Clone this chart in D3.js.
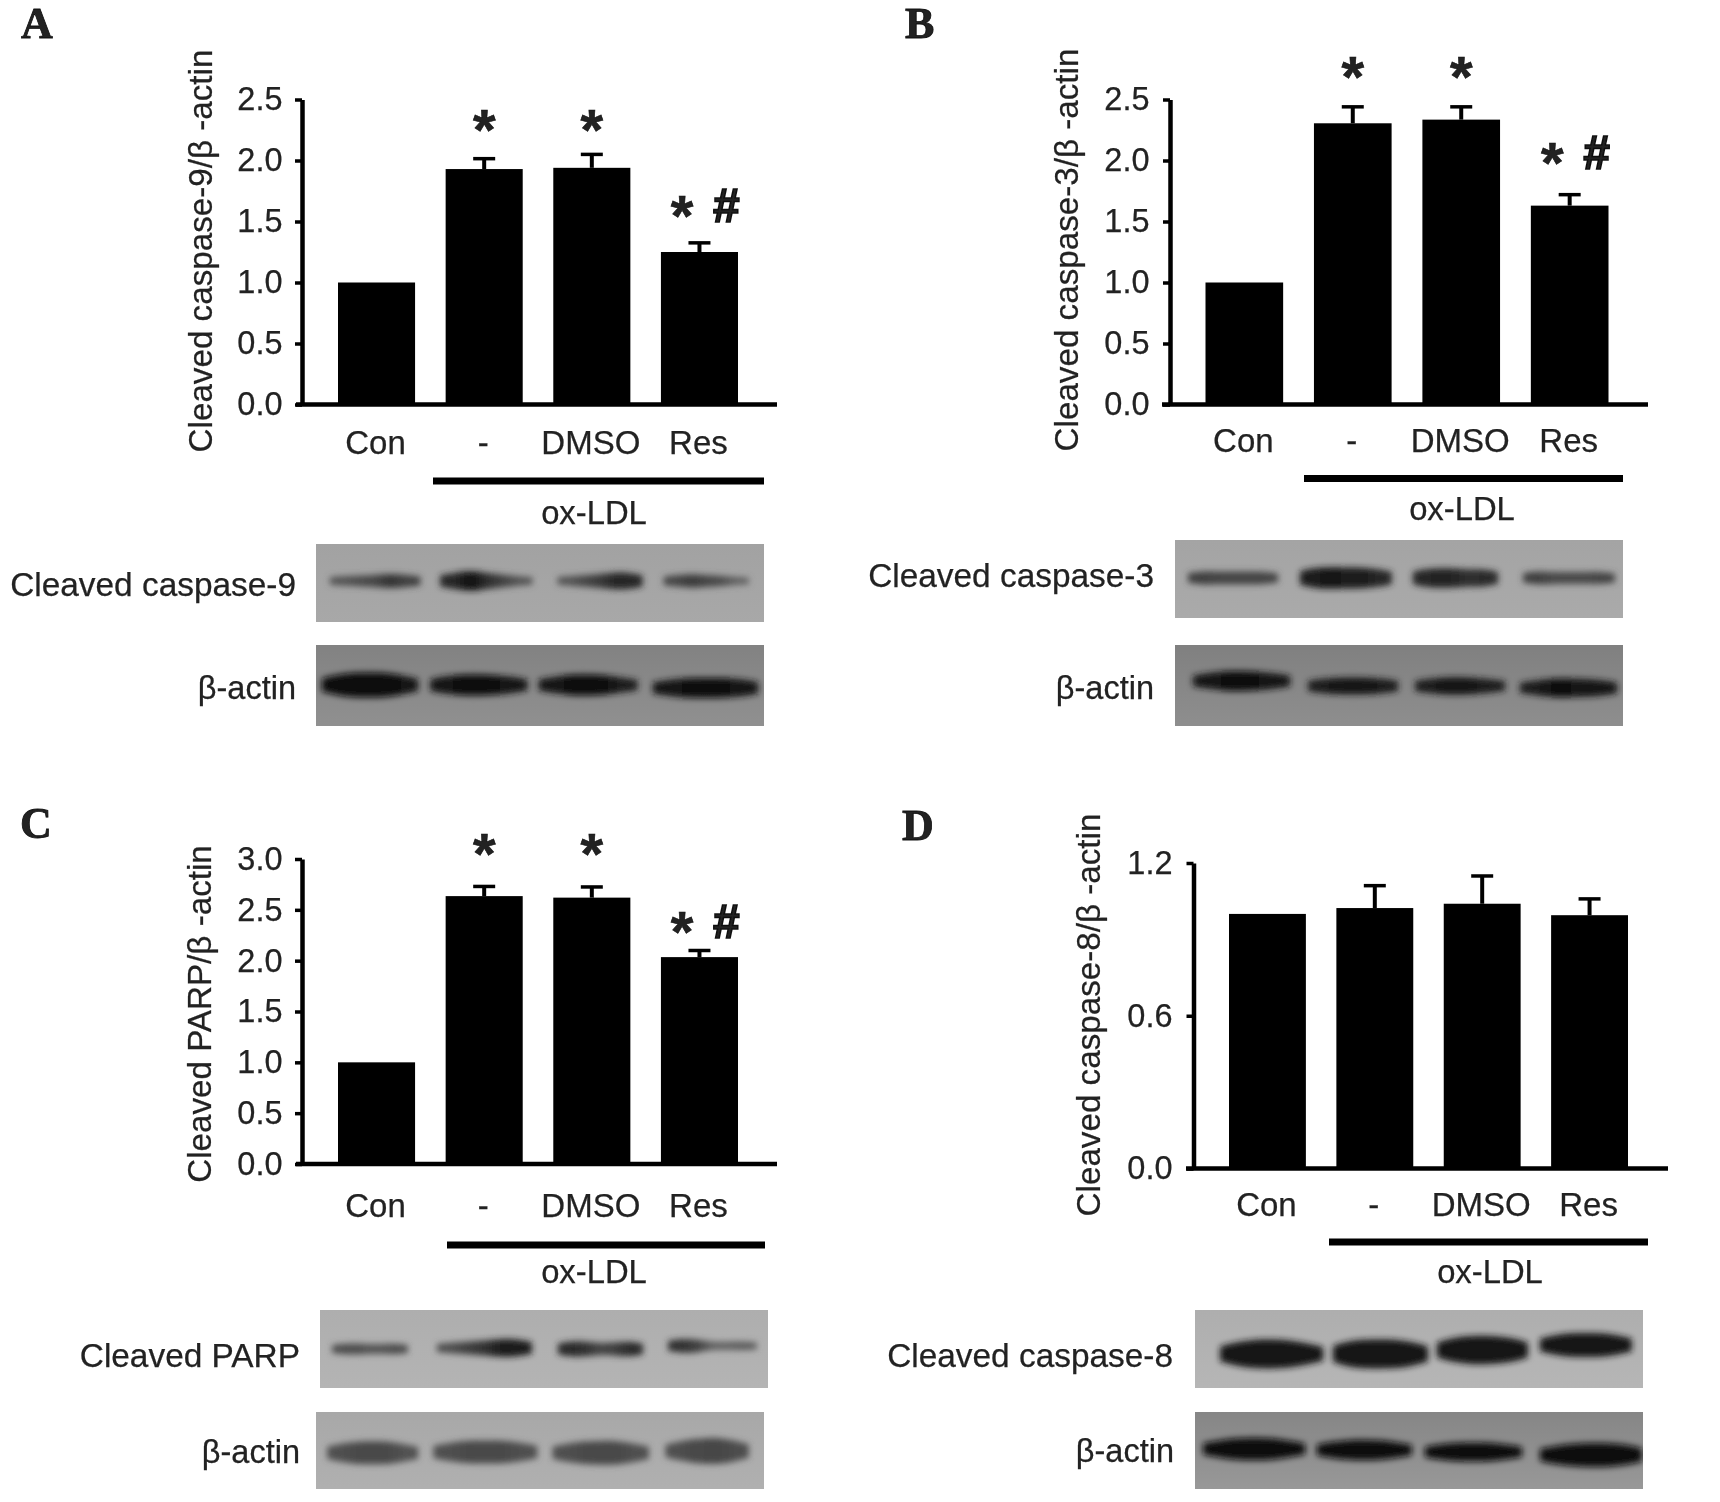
<!DOCTYPE html>
<html>
<head>
<meta charset="utf-8">
<title>Cleaved caspase blots</title>
<script src="https://cdn.jsdelivr.net/npm/d3@7"></script>
<style>
    html, body { margin: 0; padding: 0; background: #fff; }
    svg { display: block; }
    text { font-family: "Liberation Sans", Arial, sans-serif; fill: #222; stroke: #222; stroke-width: 0.25px; }
</style>
</head>
<body>
<svg id="figure" width="1720" height="1502"></svg>
<script>
//Constants
const groups = ['Con', '-', 'DMSO', 'Res']

// Bar heights and error bars
const caspase9Means = [1.0, 1.93, 1.94, 1.25]
const caspase9Errors = [0, 0.085, 0.11, 0.075]
const caspase3Means = [1.0, 2.305, 2.335, 1.63]
const caspase3Errors = [0, 0.135, 0.105, 0.09]
const parpMeans = [1.0, 2.635, 2.62, 2.035]
const parpErrors = [0, 0.095, 0.105, 0.065]
const caspase8Means = [1.0, 1.023, 1.04, 0.995]
const caspase8Errors = [0, 0.088, 0.109, 0.064]

// Tick labels
const ticks25 = [0, 0.5, 1, 1.5, 2, 2.5]
const ticks30 = [0, 0.5, 1, 1.5, 2, 2.5, 3]
const ticks12 = [0, 0.6, 1.2]

// Significance marks: height of the mark in axis units, per group (null = none)
const caspase9Stars = [null, 2.33, 2.33, 1.63]
const caspase3Stars = [null, 2.77, 2.77, 2.06]
const parpStars = [null, 3.15, 3.15, 2.38]
const caspase8Stars = [null, null, null, null]

// Blot bands: signal along each lane, 5 samples per lane
const blotCas9 = [[6, 7, 8, 11, 9], [13, 17, 12, 9, 6], [6, 8, 10, 13, 13], [8, 10, 8, 7, 4]]
const blotCas9Actin = [[17, 21, 21, 21, 15], [14, 17, 17, 16, 13], [13, 17, 17, 16, 11], [13, 16, 16, 16, 14]]
const blotCas3 = [[10, 9, 9, 9, 9], [17, 18, 17, 17, 15], [15, 16, 15, 13, 14], [10, 8, 8, 8, 9]]
const blotCas3Actin = [[12, 16, 16, 15, 12], [11, 13, 13, 13, 11], [11, 13, 14, 12, 10], [11, 15, 15, 14, 12]]
const blotParp = [[7, 7, 6, 6, 7], [7, 9, 11, 14, 14], [12, 11, 8, 9, 12], [11, 9, 4, 4, 5]]
const blotParpActin = [[15, 19, 19, 19, 14], [15, 19, 19, 19, 15], [15, 19, 20, 20, 15], [15, 20, 22, 22, 17]]
const blotCas8 = [[20, 25, 25, 24, 18], [22, 25, 25, 25, 20], [20, 24, 25, 23, 20], [16, 20, 20, 20, 16]]
const blotCas8Actin = [[14, 18, 19, 18, 13], [13, 16, 17, 16, 12], [12, 15, 15, 15, 11], [15, 19, 20, 20, 17]]

// Lane extents along the blot (percent of its width) and height of the lane (percent of its height)
const spansCas9 = [[3.1, 23.3], [27.7, 48.3], [53.9, 72.9], [77.6, 96.6]]
const spansCas9Actin = [[1.3, 22.8], [25.5, 47.2], [49.7, 71.8], [75.2, 98.7]]
const spansCas3 = [[2.9, 23], [27.9, 48.4], [53.1, 72.1], [77.7, 98.2]]
const spansCas3Actin = [[4, 25.7], [29.7, 49.8], [53.6, 73.7], [77, 98.7]]
const spansParp = [[2.7, 19.6], [26.1, 47.3], [53.1, 72.1], [77.7, 97.5]]
const spansParpActin = [[2.5, 22.8], [26.2, 49.4], [52.8, 74.3], [78, 96.6]]
const spansCas8 = [[5.6, 28.6], [30.8, 52], [54, 74.3], [77, 97.5]]
const spansCas8Actin = [[1.8, 24.6], [27.2, 48.4], [51.3, 73], [77, 99.8]]

const levelsCas9 = [47.4, 47.4, 47.4, 47.4]
const levelsCas9Actin = [49.4, 49.4, 49.4, 53]
const levelsCas3 = [48.7, 48.7, 48.7, 48.7]
const levelsCas3Actin = [44.4, 50.6, 50.6, 53]
const levelsParp = [50, 48.7, 50, 46]
const levelsParpActin = [53, 52, 53, 50.6]
const levelsCas8 = [56.4, 56.4, 51.3, 44.9]
const levelsCas8Actin = [48, 49.4, 52, 55.8]

const svg = d3.select('#figure')
const defs = svg.append('defs')
defs.append('filter').attr('id', 'soft')
    .attr('x', 0).attr('y', 0).attr('width', 1).attr('height', 1)
    .append('feGaussianBlur').attr('stdDeviation', 0.6)
defs.append('filter').attr('id', 'bandBlur')
    .attr('x', '-15%').attr('y', '-100%').attr('width', '130%').attr('height', '300%')
    .append('feGaussianBlur').attr('stdDeviation', 3)

const root = svg.append('g').attr('filter', 'url(#soft)')
root.append('rect').attr('width', 1720).attr('height', 1502).attr('fill', '#fff')

let gradientCount = 0

// Draw one bar panel: axes, bars, error bars, marks
function DrawChart(p) {
    const g = root.append('g')
    const yScale = d3.scaleLinear().domain(p.domain).range([p.bottom, p.top])
    const xScale = d3.scaleBand().domain(groups).range([p.barLeft, p.barRight]).paddingInner(0.284)

    g.selectAll('.bar').data(p.means).join('rect')
        .attr('class', 'bar')
        .attr('x', (d, i) => xScale(groups[i]))
        .attr('width', xScale.bandwidth())
        .attr('y', d => yScale(d))
        .attr('height', d => p.bottom - yScale(d))
        .attr('fill', '#000')

    // Error bars, upper side only
    p.errors.forEach((err, i) => {
        if(err == 0) {
            return
        }
        const cx = xScale(groups[i]) + xScale.bandwidth() / 2
        g.append('line').attr('x1', cx).attr('x2', cx)
            .attr('y1', yScale(p.means[i])).attr('y2', yScale(p.means[i] + err))
            .attr('stroke', '#000').attr('stroke-width', 4)
        g.append('line').attr('x1', cx - 11).attr('x2', cx + 11)
            .attr('y1', yScale(p.means[i] + err)).attr('y2', yScale(p.means[i] + err))
            .attr('stroke', '#000').attr('stroke-width', 3.5)
    })

    // Y axis
    const yAxis = g.append('g')
        .attr('transform', `translate(${p.axisX},0)`)
        .call(d3.axisLeft(yScale).tickValues(p.ticks).tickSize(7).tickSizeOuter(0).tickPadding(p.tickPad)
            .tickFormat(d3.format('.1f')))
    yAxis.select('.domain').attr('stroke', '#000').attr('stroke-width', 4.5)
    yAxis.selectAll('.tick line').attr('stroke', '#000').attr('stroke-width', 3.5)
    yAxis.selectAll('text').style('font-size', '32.5px').style('font-family', '"Liberation Sans"').attr('fill', '#222')

    // X axis line runs past the bars on both sides
    g.append('line').attr('x1', p.lineLeft).attr('x2', p.lineRight)
        .attr('y1', p.bottom).attr('y2', p.bottom)
        .attr('stroke', '#000').attr('stroke-width', 4.5)

    const xAxis = g.append('g')
        .attr('transform', `translate(-1,${p.bottom})`)
        .call(d3.axisBottom(xScale).tickSize(0).tickPadding(p.labelPad))
    xAxis.select('.domain').remove()
    xAxis.selectAll('text').style('font-size', '33px').style('font-family', '"Liberation Sans"').attr('fill', '#222')

    // Y title
    g.append('text')
        .attr('transform', `translate(${p.titleX},${p.titleY}) rotate(-90)`)
        .attr('text-anchor', 'middle')
        .style('font-size', '33.2px')
        .text(p.title)

    // Panel letter
    g.append('text')
        .attr('x', p.letterX).attr('y', p.letterY)
        .style('font-family', '"Liberation Serif"')
        .style('font-weight', 'bold')
        .style('font-size', '44px')
        .style('stroke', '#111').style('stroke-width', '0.8px')
        .attr('fill', '#111')
        .text(p.letter)

    // Treatment bar and its label
    g.append('rect').attr('x', p.oxLeft).attr('width', p.oxRight - p.oxLeft)
        .attr('y', p.oxY - 3.5).attr('height', 7).attr('fill', '#000')
    g.append('text').attr('x', p.oxTextX).attr('y', p.oxTextY)
        .attr('text-anchor', 'middle').style('font-size', '32.8px').text('ox-LDL')

    // Significance marks
    p.stars.forEach((level, i) => {
        if(level === null) {
            return
        }
        const cx = xScale(groups[i]) + xScale.bandwidth() / 2
        const withHash = i == 3
        g.append('text')
            .attr('x', cx + (withHash ? -17.5 : 0))
            .attr('y', yScale(level) + 30)
            .attr('text-anchor', 'middle')
            .style('font-weight', 'bold').style('font-size', '58px').attr('fill', '#111')
            .style('stroke', '#111').style('stroke-width', '0.6px')
            .text('*')
        if(withHash) {
            g.append('text')
                .attr('x', cx + 27)
                .attr('y', yScale(level) + 16)
                .attr('text-anchor', 'middle')
                .style('font-weight', 'bold').style('font-size', '48px').attr('fill', '#111')
                .style('stroke', '#111').style('stroke-width', '1.6px')
                .text('#')
        }
    })
}

// Draw one blot strip from its lane signals
function DrawBlot(b) {
    const g = root.append('g')
    const xPos = d3.scaleLinear().domain([0, 100]).range([b.left, b.right])
    const yPos = d3.scaleLinear().domain([0, 100]).range([b.top, b.bottom])
    const thickness = d3.scaleLinear().domain([0, 25]).range([0, 25])
    const tone = d3.scaleLinear().domain([0, b.full]).range([b.bgMid, b.ink]).clamp(true)

    const gradId = `blot-bg-${gradientCount++}`
    const grad = defs.append('linearGradient').attr('id', gradId)
        .attr('x1', 0).attr('y1', 0).attr('x2', 0).attr('y2', 1)
    grad.append('stop').attr('offset', 0).attr('stop-color', b.bgTop)
    grad.append('stop').attr('offset', 1).attr('stop-color', b.bgBottom)

    g.append('rect').attr('x', b.left).attr('y', b.top)
        .attr('width', b.right - b.left).attr('height', b.bottom - b.top)
        .attr('fill', `url(#${gradId})`)

    const clipId = `blot-clip-${gradientCount++}`
    defs.append('clipPath').attr('id', clipId).append('rect')
        .attr('x', b.left).attr('y', b.top)
        .attr('width', b.right - b.left).attr('height', b.bottom - b.top)
    const bands = g.append('g').attr('clip-path', `url(#${clipId})`)

    b.signal.forEach((samples, lane) => {
        const span = b.spans[lane]
        const mid = yPos(b.levels[lane])
        // Round lane ends: outline closes at half the end sample, not at a point
        const outline = [samples[0] * 0.55].concat(samples, [samples[samples.length - 1] * 0.55])
        const along = d3.scalePoint().domain(d3.range(outline.length)).range([xPos(span[0]), xPos(span[1])])

        const laneGrad = `lane-${gradientCount++}`
        const stops = defs.append('linearGradient').attr('id', laneGrad)
            .attr('gradientUnits', 'userSpaceOnUse')
            .attr('x1', xPos(span[0])).attr('x2', xPos(span[1]))
            .attr('y1', 0).attr('y2', 0)
        samples.forEach((s, i) => {
            stops.append('stop').attr('offset', (i + 1) / (samples.length + 1)).attr('stop-color', tone(s))
        })

        const area = d3.area()
            .x((d, i) => along(i))
            .y0(d => mid - thickness(d) / 2 - 2)
            .y1(d => mid + thickness(d) / 2 + 2)
            .curve(d3.curveBasis)

        bands.append('path').attr('d', area(outline))
            .attr('fill', `url(#${laneGrad})`)
            .attr('filter', 'url(#bandBlur)')
    })

    g.append('text')
        .attr('x', b.labelX).attr('y', b.labelY)
        .attr('text-anchor', 'end')
        .style('font-size', b.labelSize + 'px')
        .text(b.label)
}

DrawChart({
    letter: 'A', letterX: 21, letterY: 38,
    title: 'Cleaved caspase-9/β -actin', titleX: 212, titleY: 251,
    means: caspase9Means, errors: caspase9Errors, stars: caspase9Stars,
    domain: [0, 2.5], ticks: ticks25, top: 99.5, bottom: 404.5,
    axisX: 302, tickPad: 12.5, lineLeft: 296, lineRight: 777,
    barLeft: 338, barRight: 738, labelPad: 26,
    oxLeft: 433, oxRight: 764, oxY: 481, oxTextX: 594, oxTextY: 524
})
DrawChart({
    letter: 'B', letterX: 905, letterY: 38,
    title: 'Cleaved caspase-3/β -actin', titleX: 1078, titleY: 250,
    means: caspase3Means, errors: caspase3Errors, stars: caspase3Stars,
    domain: [0, 2.5], ticks: ticks25, top: 99.5, bottom: 404.5,
    axisX: 1170, tickPad: 13.5, lineLeft: 1162, lineRight: 1648,
    barLeft: 1205.5, barRight: 1608.5, labelPad: 24,
    oxLeft: 1304, oxRight: 1623, oxY: 478.5, oxTextX: 1462, oxTextY: 520
})
DrawChart({
    letter: 'C', letterX: 20, letterY: 838,
    title: 'Cleaved PARP/β -actin', titleX: 211, titleY: 1014,
    means: parpMeans, errors: parpErrors, stars: parpStars,
    domain: [0, 3], ticks: ticks30, top: 859, bottom: 1164,
    axisX: 302, tickPad: 12.5, lineLeft: 296, lineRight: 777,
    barLeft: 338, barRight: 738, labelPad: 30,
    oxLeft: 447, oxRight: 765, oxY: 1245, oxTextX: 594, oxTextY: 1283
})
DrawChart({
    letter: 'D', letterX: 902, letterY: 840,
    title: 'Cleaved caspase-8/β -actin', titleX: 1100, titleY: 1015,
    means: caspase8Means, errors: caspase8Errors, stars: caspase8Stars,
    domain: [0, 1.2], ticks: ticks12, top: 863, bottom: 1168.5,
    axisX: 1193.5, tickPad: 14, lineLeft: 1186, lineRight: 1668,
    barLeft: 1229, barRight: 1628, labelPad: 24,
    oxLeft: 1329, oxRight: 1648, oxY: 1242, oxTextX: 1490, oxTextY: 1283
})

DrawBlot({
    label: 'Cleaved caspase-9', labelX: 296, labelY: 596, labelSize: 33.4,
    signal: blotCas9, spans: spansCas9, levels: levelsCas9,
    left: 316, right: 764, top: 544, bottom: 622,
    bgTop: '#a2a2a2', bgBottom: '#a8a8a8', bgMid: '#787878', ink: '#0e0e0e', full: 17
})
DrawBlot({
    label: 'β-actin', labelX: 296, labelY: 699, labelSize: 32.5,
    signal: blotCas9Actin, spans: spansCas9Actin, levels: levelsCas9Actin,
    left: 316, right: 764, top: 645, bottom: 726,
    bgTop: '#828282', bgBottom: '#909090', bgMid: '#3a3a3a', ink: '#0a0a0a', full: 18
})
DrawBlot({
    label: 'Cleaved caspase-3', labelX: 1154, labelY: 587, labelSize: 33.4,
    signal: blotCas3, spans: spansCas3, levels: levelsCas3,
    left: 1175, right: 1623, top: 540, bottom: 618,
    bgTop: '#a4a4a4', bgBottom: '#aaaaaa', bgMid: '#747474', ink: '#111111', full: 19
})
DrawBlot({
    label: 'β-actin', labelX: 1154, labelY: 699, labelSize: 32.5,
    signal: blotCas3Actin, spans: spansCas3Actin, levels: levelsCas3Actin,
    left: 1175, right: 1623, top: 645, bottom: 726,
    bgTop: '#808080', bgBottom: '#8e8e8e', bgMid: '#383838', ink: '#0c0c0c', full: 17
})
DrawBlot({
    label: 'Cleaved PARP', labelX: 300, labelY: 1367, labelSize: 33.4,
    signal: blotParp, spans: spansParp, levels: levelsParp,
    left: 320, right: 768, top: 1310, bottom: 1388,
    bgTop: '#aeaeae', bgBottom: '#b4b4b4', bgMid: '#7c7c7c', ink: '#101010', full: 16
})
DrawBlot({
    label: 'β-actin', labelX: 300, labelY: 1463, labelSize: 32.5,
    signal: blotParpActin, spans: spansParpActin, levels: levelsParpActin,
    left: 316, right: 764, top: 1412, bottom: 1489,
    bgTop: '#a8a8a8', bgBottom: '#b0b0b0', bgMid: '#626262', ink: '#444444', full: 24
})
DrawBlot({
    label: 'Cleaved caspase-8', labelX: 1173, labelY: 1367, labelSize: 33.4,
    signal: blotCas8, spans: spansCas8, levels: levelsCas8,
    left: 1195, right: 1643, top: 1310, bottom: 1388,
    bgTop: '#aeaeae', bgBottom: '#b6b6b6', bgMid: '#1e1e1e', ink: '#131313', full: 25
})
DrawBlot({
    label: 'β-actin', labelX: 1174, labelY: 1462, labelSize: 32.5,
    signal: blotCas8Actin, spans: spansCas8Actin, levels: levelsCas8Actin,
    left: 1195, right: 1643, top: 1412, bottom: 1489,
    bgTop: '#868686', bgBottom: '#989898', bgMid: '#181818', ink: '#0a0a0a', full: 20
})
</script>
</body>
</html>
